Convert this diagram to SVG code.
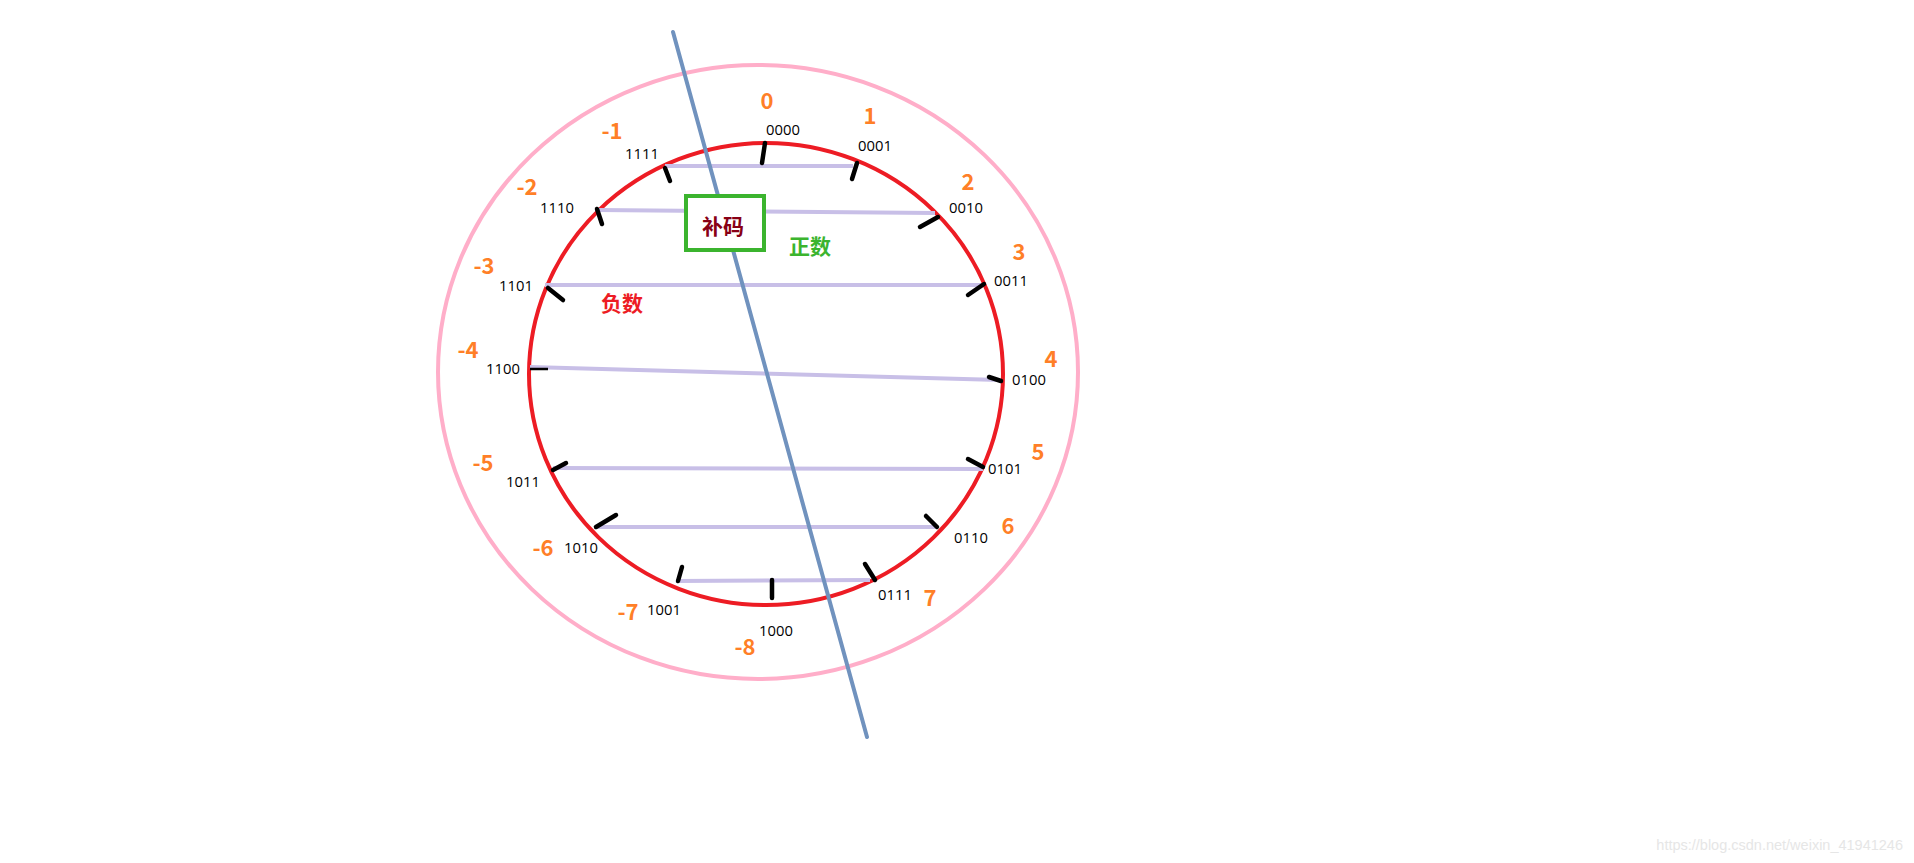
<svg xmlns="http://www.w3.org/2000/svg" width="1914" height="863" viewBox="0 0 1914 863">
<style>
.num{font-family:"Noto Sans CJK SC","Noto Sans",sans-serif;font-weight:bold;font-size:22px;fill:#FF7F27;text-anchor:middle;dominant-baseline:central}
.bin{font-family:"Open Sans","Noto Sans",sans-serif;font-size:14.8px;fill:#000;text-anchor:middle;dominant-baseline:central}
.lav{stroke:#C8BFE7;stroke-width:4;fill:none}
.tick{stroke:#000;stroke-width:4.5;stroke-linecap:round}
.cjk{font-family:"Noto Sans CJK SC",sans-serif;font-weight:bold;font-size:21px;text-anchor:middle;dominant-baseline:central}
</style>
<rect width="1914" height="863" fill="#fff"/>
<g id="outer-ring"><ellipse cx="758" cy="372" rx="320" ry="307" fill="none" stroke="#FFAEC9" stroke-width="4"/></g>
<g id="inner-ring"><ellipse cx="766" cy="374" rx="237" ry="231" fill="none" stroke="#ED1C24" stroke-width="4"/></g>
<g id="connectors">
<line class="lav" x1="665" y1="166" x2="853" y2="166"/>
<line class="lav" x1="598" y1="210" x2="935" y2="213"/>
<line class="lav" x1="545" y1="285" x2="982" y2="285"/>
<line class="lav" x1="530" y1="367" x2="1000" y2="380"/>
<line class="lav" x1="553" y1="468" x2="983" y2="469"/>
<line class="lav" x1="595" y1="527" x2="937" y2="527"/>
<line class="lav" x1="676" y1="581" x2="870" y2="580"/>
</g>
<g id="ticks">
<line class="tick" x1="765" y1="143" x2="762" y2="163"/>
<line class="tick" x1="857" y1="163" x2="852" y2="179"/>
<line class="tick" x1="665" y1="168" x2="670" y2="181"/>
<line class="tick" x1="597" y1="209" x2="602" y2="224"/>
<line class="tick" x1="548" y1="288" x2="563" y2="300"/>
<line class="tick" x1="938" y1="217" x2="920" y2="227"/>
<line class="tick" x1="984" y1="284" x2="968" y2="295"/>
<line x1="530" y1="369" x2="548" y2="369" stroke="#000" stroke-width="2.5"/>
<line class="tick" x1="989" y1="377" x2="1001" y2="381" stroke-width="3"/>
<line class="tick" x1="553" y1="470" x2="566" y2="463" stroke-width="3.5"/>
<line class="tick" x1="968" y1="459" x2="983" y2="467"/>
<line class="tick" x1="596" y1="527" x2="616" y2="515"/>
<line class="tick" x1="926" y1="516" x2="937" y2="527"/>
<line class="tick" x1="678" y1="581" x2="682" y2="567"/>
<line class="tick" x1="875" y1="580" x2="865" y2="564"/>
<line class="tick" x1="772" y1="598" x2="772" y2="580"/>
</g>
<g id="axis"><line x1="673" y1="32" x2="867" y2="737" stroke="#7092BE" stroke-width="4" stroke-linecap="round"/></g>
<g id="box">
<rect x="686" y="196" width="78" height="54" fill="#fff" stroke="#3BB42E" stroke-width="4"/>
<text class="cjk" x="723" y="225" fill="#880015" font-size="20">补码</text>
</g>
<g id="label-pos"><text class="cjk" x="810" y="245" fill="#3BB42E">正数</text></g>
<g id="label-neg"><text class="cjk" x="622" y="302" fill="#ED1C24">负数</text></g>
<g id="nums">
<text class="num" x="767" y="99">0</text>
<text class="num" x="870" y="114">1</text>
<text class="num" x="968" y="180">2</text>
<text class="num" x="1019" y="250">3</text>
<text class="num" x="1051" y="357">4</text>
<text class="num" x="1038" y="450">5</text>
<text class="num" x="1008" y="524">6</text>
<text class="num" x="930" y="596">7</text>
<text class="num" x="612" y="129">-1</text>
<text class="num" x="527" y="185">-2</text>
<text class="num" x="484" y="264">-3</text>
<text class="num" x="468" y="348">-4</text>
<text class="num" x="483" y="461">-5</text>
<text class="num" x="543" y="546">-6</text>
<text class="num" x="628" y="610">-7</text>
<text class="num" x="745" y="645">-8</text>
</g>
<g id="bins">
<text class="bin" x="783" y="129">0000</text>
<text class="bin" x="875" y="145">0001</text>
<text class="bin" x="966" y="207">0010</text>
<text class="bin" x="1011" y="280">0011</text>
<text class="bin" x="1029" y="379">0100</text>
<text class="bin" x="1005" y="468">0101</text>
<text class="bin" x="971" y="537">0110</text>
<text class="bin" x="895" y="594">0111</text>
<text class="bin" x="776" y="630">1000</text>
<text class="bin" x="664" y="609">1001</text>
<text class="bin" x="581" y="547">1010</text>
<text class="bin" x="523" y="481">1011</text>
<text class="bin" x="503" y="368">1100</text>
<text class="bin" x="516" y="285">1101</text>
<text class="bin" x="557" y="207">1110</text>
<text class="bin" x="642" y="153">1111</text>
</g>
<text x="1903" y="850" font-family="Liberation Sans,Arial,sans-serif" font-size="14.5" fill="#E6E6E6" text-anchor="end">https://blog.csdn.net/weixin_41941246</text>
</svg>
